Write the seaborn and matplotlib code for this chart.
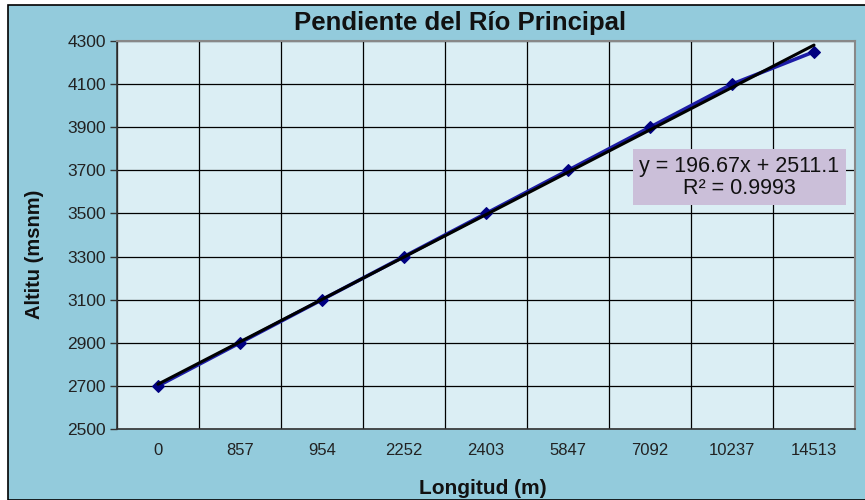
import numpy as np
import pandas as pd
import seaborn as sns
import matplotlib.pyplot as plt
from matplotlib.patches import Rectangle

# datos del perfil del rio
longitud = ["0", "857", "954", "2252", "2403", "5847", "7092", "10237", "14513"]
altitud = [2700, 2900, 3100, 3300, 3500, 3700, 3900, 4100, 4250]

df = pd.DataFrame({"pos": np.arange(len(longitud)), "altitud": altitud})

sns.set_theme(style="white")
plt.rcParams['font.family'] = ['Liberation Sans', 'DejaVu Sans']

fig = plt.figure(figsize=(8.65, 5.0), dpi=100)
fig.patch.set_facecolor('white')
# fondo exterior con borde negro
fig.patches.append(Rectangle((8 / 865, 0), 1, 1 - 5 / 500, transform=fig.transFigure,
                             facecolor='#93cbdc', edgecolor='black', linewidth=1.2, zorder=-5))

ax = fig.add_axes([117 / 865, 71 / 500, 738 / 865, 388 / 500])
ax.set_facecolor('#dbeef4')

# linea de tendencia (x = 1..9 como en Excel)
x_excel = df["pos"] + 1
m, b = np.polyfit(x_excel, df["altitud"], 1)
r2 = np.corrcoef(x_excel, df["altitud"])[0, 1] ** 2

sns.lineplot(data=df, x="pos", y="altitud", ax=ax, color='#1c1ca6', linewidth=2.6,
             marker='D', markersize=6.5, markeredgecolor='#000080', markerfacecolor='#000080',
             zorder=3)
ax.plot(df["pos"], m * x_excel + b, color='black', linewidth=2.2, zorder=4)

ax.set_xlim(-0.5, len(longitud) - 0.5)
ax.set_ylim(2500, 4300)
ax.set_yticks(np.arange(2500, 4301, 200))
ax.set_xticks(df["pos"])
ax.set_xticklabels(longitud)
ax.set_xticks(np.arange(-0.5, len(longitud), 1), minor=True)

ax.grid(True, which='minor', axis='x', color='black', linewidth=0.9)
ax.grid(True, which='major', axis='y', color='black', linewidth=0.9)
ax.grid(False, which='major', axis='x')
ax.set_axisbelow(True)

ax.tick_params(axis='x', which='major', length=0, labelsize=12, labelcolor='#222222', pad=10)
ax.tick_params(axis='x', which='minor', length=5, width=1, color='#333333', direction='out')
ax.tick_params(axis='y', length=5, width=1, color='#333333', direction='out', labelsize=12.5,
               labelcolor='#222222', left=True, pad=3)

for s in ['left', 'bottom']:
    ax.spines[s].set_color('#333333')
    ax.spines[s].set_linewidth(1.2)
for s in ['top', 'right']:
    ax.spines[s].set_color('#888888')
    ax.spines[s].set_linewidth(1.5)

ax.set_xlabel('')
ax.set_ylabel('')
fig.text(460 / 865, 1 - 23 / 500, 'Pendiente del Río Principal', ha='center', va='center',
         fontsize=18.5, fontweight='bold', color='#111111')
fig.text(35 / 865, 1 - 254 / 500, 'Altitu (msnm)', ha='center', va='center', rotation=90,
         fontsize=14.5, fontweight='bold', color='#111111')
fig.text(483 / 865, 1 - 489 / 500, 'Longitud (m)', ha='center', va='center',
         fontsize=15, fontweight='bold', color='#111111')

ax.text(0.843, 0.649, f'y = {m:.2f}x + {b:.1f}\nR² = {r2:.4f}', transform=ax.transAxes,
        ha='center', va='center', fontsize=15.5, color='#111111', linespacing=1.05,
        bbox=dict(boxstyle='square,pad=0.3', facecolor='#cbbfd9', edgecolor='none'), zorder=5)

plt.savefig('out.png', dpi=100)
